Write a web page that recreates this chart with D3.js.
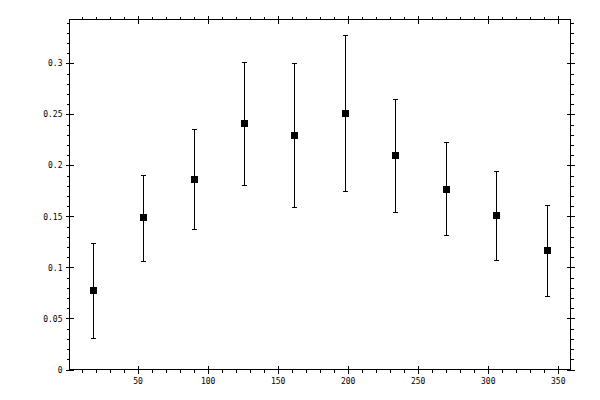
<!DOCTYPE html>
<html>
<head>
<meta charset="utf-8">
<script src="https://cdn.jsdelivr.net/npm/d3@7"></script>
<style>
  body { margin: 0; background: #fff; }
  svg { display: block; }
  .tick text { font-family: "DejaVu Sans Mono", monospace; font-size: 8px; fill: #000; }
</style>
</head>
<body>
<svg width="600" height="400"></svg>
<script>
const xValues = [18, 54, 90, 126, 162, 198, 234, 270, 306, 342];
const yValues = [0.0775, 0.149, 0.1865, 0.2412, 0.2294, 0.251, 0.2098, 0.1765, 0.151, 0.1167];
const yLow = [0.0304, 0.1059, 0.1375, 0.1804, 0.1588, 0.1745, 0.1539, 0.1314, 0.1078, 0.0725];
const yHigh = [0.1235, 0.191, 0.2353, 0.3016, 0.300, 0.3275, 0.2653, 0.2225, 0.1944, 0.1608];

const xMajor = [50, 100, 150, 200, 250, 300, 350];
const xMinor = d3.range(10, 360, 10).filter(v => v % 50 !== 0);
const yMajor = [0, 0.05, 0.1, 0.15, 0.2, 0.25, 0.3];
const yMinor = d3.range(1, 35).map(v => v / 100).filter(v => Math.round(v * 100) % 5 !== 0);

const svg = d3.select("svg");
const pLeft = 69.5, pRight = 570.5, pTop = 19.5, pBottom = 369.5;

const x = d3.scaleLinear().domain([1.4, 359.1]).range([pLeft, pRight]);
const y = d3.scaleLinear().domain([0, 0.343]).range([pBottom, pTop]);

// frame
svg.append("rect")
    .attr("x", pLeft).attr("y", pTop)
    .attr("width", pRight - pLeft).attr("height", pBottom - pTop)
    .attr("fill", "none").attr("stroke", "#000").attr("shape-rendering", "crispEdges");

function tickAxis(axis, transform, labels) {
    const g = svg.append("g").attr("transform", transform).call(axis);
    g.select(".domain").remove();
    g.selectAll("line").attr("stroke", "#000").attr("shape-rendering", "crispEdges");
    if (!labels) g.selectAll("text").remove();
    return g;
}

const yFmt = d => d === 0 ? "0" : String(+d.toFixed(2));

// left axis
tickAxis(d3.axisLeft(y).tickValues(yMinor).tickSize(3), `translate(${pLeft},0)`, false);
tickAxis(d3.axisLeft(y).tickValues(yMajor).tickSize(4).tickPadding(3).tickFormat(yFmt), `translate(${pLeft},0)`, true);
tickAxis(d3.axisRight(y).tickValues(yMajor).tickSize(4), `translate(${pLeft},0)`, false);
// right axis
tickAxis(d3.axisRight(y).tickValues(yMinor).tickSize(3), `translate(${pRight},0)`, false);
tickAxis(d3.axisRight(y).tickValues(yMajor).tickSize(4), `translate(${pRight},0)`, false);
tickAxis(d3.axisLeft(y).tickValues(yMajor).tickSize(4), `translate(${pRight},0)`, false);
// bottom axis
tickAxis(d3.axisBottom(x).tickValues(xMinor).tickSize(3), `translate(0,${pBottom})`, false);
tickAxis(d3.axisBottom(x).tickValues(xMajor).tickSize(4).tickPadding(5).tickFormat(d3.format("d")), `translate(0,${pBottom})`, true);
tickAxis(d3.axisTop(x).tickValues(xMajor).tickSize(4), `translate(0,${pBottom})`, false);
// top axis
tickAxis(d3.axisTop(x).tickValues(xMinor).tickSize(3), `translate(0,${pTop})`, false);
tickAxis(d3.axisTop(x).tickValues(xMajor).tickSize(4), `translate(0,${pTop})`, false);
tickAxis(d3.axisBottom(x).tickValues(xMajor).tickSize(4), `translate(0,${pTop})`, false);

const pts = xValues.map((v, i) => ({x: v, y: yValues[i], lo: yLow[i], hi: yHigh[i]}));

const bars = svg.append("g").attr("stroke", "#000").attr("shape-rendering", "crispEdges");
bars.selectAll(".err")
    .data(pts).enter().append("line")
    .attr("class", "err")
    .attr("x1", d => Math.round(x(d.x)) + 0.5).attr("x2", d => Math.round(x(d.x)) + 0.5)
    .attr("y1", d => y(d.lo)).attr("y2", d => y(d.hi));
bars.selectAll(".capHi")
    .data(pts).enter().append("line")
    .attr("class", "capHi")
    .attr("x1", d => Math.round(x(d.x)) - 2).attr("x2", d => Math.round(x(d.x)) + 3)
    .attr("y1", d => Math.round(y(d.hi)) + 0.5).attr("y2", d => Math.round(y(d.hi)) + 0.5);
bars.selectAll(".capLo")
    .data(pts).enter().append("line")
    .attr("class", "capLo")
    .attr("x1", d => Math.round(x(d.x)) - 2).attr("x2", d => Math.round(x(d.x)) + 3)
    .attr("y1", d => Math.round(y(d.lo)) + 0.5).attr("y2", d => Math.round(y(d.lo)) + 0.5);

svg.selectAll(".marker")
    .data(pts).enter().append("rect")
    .attr("class", "marker")
    .attr("x", d => Math.round(x(d.x)) - 3)
    .attr("y", d => Math.round(y(d.y)) - 3)
    .attr("width", 7).attr("height", 7)
    .attr("fill", "#000");
</script>
</body>
</html>
